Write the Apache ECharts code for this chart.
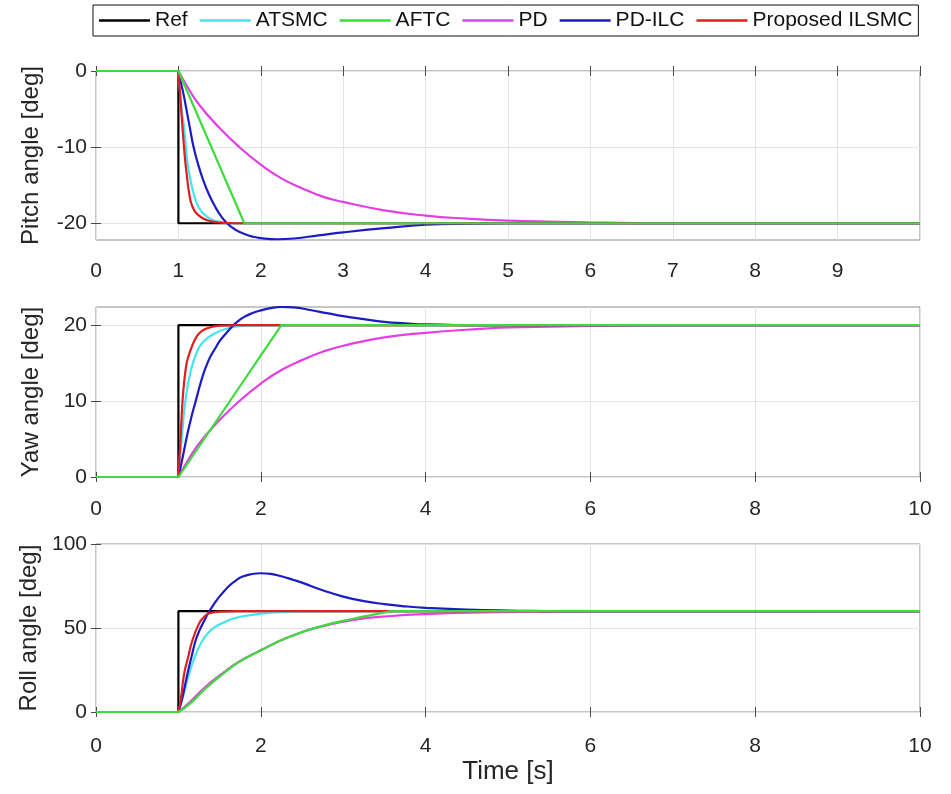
<!DOCTYPE html>
<html>
<head>
<meta charset="utf-8">
<script src="https://cdn.jsdelivr.net/npm/echarts@6/dist/echarts.min.js"></script>
<style>
html,body{margin:0;padding:0;background:#fff;}
#chart{width:951px;height:794px;}
</style>
</head>
<body>
<div id="chart"></div>
<script>
// ---------- data (time [s], angle [deg]) ----------
const G = [1, '-']; // break marker so the post-step part is smoothed on its own
const seriesNames = ['Ref', 'ATSMC', 'AFTC', 'PD', 'PD-ILC', 'Proposed ILSMC'];

const pitchRef    = [[0,0],[1,0],[1,-20],[10,-20]];
const pitchATSMC  = [[0,0],[1,0],G,[1,0],[1.04,-5],[1.07,-7.5],[1.11,-12],[1.15,-14.5],[1.19,-16.3],[1.25,-18],[1.33,-19],[1.45,-19.7],[1.7,-20],[10,-20]];
const pitchAFTC   = [[0,0],[1,0],[1.8,-20],[10,-20]];
const pitchPD     = [[0,0],[1,0],G,[1,0],[1.1,-1.9],[1.25,-4.4],[1.5,-7.5],[1.75,-10.1],[2,-12.3],[2.25,-14.1],[2.5,-15.4],[2.75,-16.5],[3,-17.2],[3.5,-18.3],[4,-19],[4.5,-19.4],[5,-19.65],[6,-19.9],[7,-20],[10,-20]];
const pitchPDILC  = [[0,0],[1,0],G,[1,0],[1.03,-1.5],[1.065,-3.2],[1.1,-5.2],[1.14,-7.5],[1.18,-9.8],[1.23,-11.9],[1.3,-14.3],[1.37,-16.2],[1.45,-17.9],[1.52,-19.1],[1.6,-20.1],[1.7,-20.9],[1.8,-21.4],[1.9,-21.75],[2,-21.95],[2.2,-22.1],[2.4,-22.0],[2.7,-21.6],[3,-21.2],[3.5,-20.65],[4,-20.2],[4.5,-20.05],[5,-20],[10,-20]];
const pitchILSMC  = [[0,0],[1,0],G,[1,0],[1.02,-3],[1.05,-7.5],[1.08,-11.5],[1.1,-13.5],[1.13,-16],[1.17,-17.8],[1.25,-19],[1.35,-19.6],[1.5,-19.9],[1.7,-20],[10,-20]];

const yawRef    = [[0,0],[1,0],[1,20],[10,20]];
const yawATSMC  = [[0,0],[1,0],G,[1,0],[1.04,5],[1.085,10],[1.15,14],[1.23,16.6],[1.3,17.8],[1.42,18.8],[1.6,19.6],[1.8,19.95],[2.1,20],[10,20]];
const yawAFTC   = [[0,0],[1,0],[2.25,20],[10,20]];
const yawPD     = [[0,0],[1,0],G,[1,0],[1.1,1.9],[1.25,4.4],[1.5,7.5],[1.75,10.1],[2,12.3],[2.25,14.1],[2.5,15.4],[2.75,16.5],[3,17.3],[3.5,18.4],[4,19],[4.5,19.4],[5,19.7],[6,19.9],[7,20],[10,20]];
const yawPDILC  = [[0,0],[1,0],G,[1,0],[1.05,2.5],[1.11,5.7],[1.16,8],[1.21,10],[1.27,12.4],[1.33,14.4],[1.39,15.9],[1.45,17],[1.5,17.9],[1.56,18.7],[1.65,19.8],[1.72,20.5],[1.8,21.1],[1.9,21.6],[2,21.95],[2.12,22.25],[2.25,22.4],[2.4,22.35],[2.6,22.0],[2.8,21.6],[3,21.2],[3.25,20.8],[3.5,20.45],[3.75,20.25],[4,20.1],[4.5,20.02],[5,20],[10,20]];
const yawILSMC  = [[0,0],[1,0],G,[1,0],[1.01,2],[1.02,4],[1.035,7],[1.05,10],[1.065,12],[1.08,13.5],[1.1,15],[1.125,16],[1.15,16.8],[1.2,18.1],[1.25,18.9],[1.3,19.35],[1.35,19.6],[1.5,19.95],[1.7,20],[10,20]];

const rollRef    = [[0,0],[1,0],[1,60],[10,60]];
const rollATSMC  = [[0,0],[1,0],G,[1,0],[1.05,8],[1.12,21],[1.2,33],[1.28,41.5],[1.36,47],[1.45,50.8],[1.53,52.8],[1.63,55],[1.75,56.7],[2,58.5],[2.3,59.5],[2.7,60],[10,60]];
const rollAFTC   = [[0,0],[1,0],G,[1,0],[1.13,4.5],[1.33,14],[1.53,22.3],[1.73,29.5],[2,36.7],[2.34,44.6],[2.74,51.2],[3.15,55.8],[3.4,58.3],[3.65,60],[10,60]];
const rollPD     = [[0,0],[1,0],G,[1,0],[1.13,5.5],[1.33,15],[1.53,22.8],[1.73,29.8],[2,36.7],[2.34,44.6],[2.74,51],[3.15,55],[3.55,57],[4,58.3],[4.7,59.3],[6,59.9],[10,60]];
const rollPDILC  = [[0,0],[1,0],G,[1,0],[1.05,9],[1.11,22.8],[1.16,33],[1.21,42.7],[1.26,49],[1.3,53],[1.37,59.5],[1.45,65.5],[1.5,68.8],[1.56,72.2],[1.62,75.3],[1.7,78.4],[1.78,80.6],[1.88,82],[2,82.6],[2.12,82.2],[2.25,80.8],[2.4,78.6],[2.5,77],[2.75,72.5],[3,68.7],[3.25,66],[3.5,64.2],[3.75,62.9],[4,62],[4.5,60.9],[5,60.4],[6,60],[10,60]];
const rollILSMC  = [[0,0],[1,0],G,[1,0],[1.03,8],[1.07,22.8],[1.12,33],[1.17,42.7],[1.25,52.6],[1.3,56],[1.37,58.6],[1.5,59.7],[1.7,60],[10,60]];

// axis ticks / ranges
const pitchTicks = [-20, -10, 0];
const yawTicks = [0, 10, 20];
const rollTicks = [0, 50, 100];
const pitchRange = [-22.2, 0];
const yawRange = [0, 22.4];
const rollRange = [0, 100];
const axisNames = ['Pitch angle [deg]', 'Yaw angle [deg]', 'Roll angle [deg]'];
const xName = 'Time [s]';

// ---------- styling ----------
const FONT = '"Liberation Sans", Arial, Helvetica, sans-serif';
const colors = {
  'Ref': '#000000',
  'ATSMC': '#44e4f0',
  'AFTC': '#3ddc3d',
  'PD': '#e43fe4',
  'PD-ILC': '#1c1cc4',
  'Proposed ILSMC': '#e01e1e'
};
const zOrder = {'Ref': 1, 'ATSMC': 2, 'PD': 3, 'PD-ILC': 4, 'Proposed ILSMC': 5, 'AFTC': 6};

const panels = [
  {data: [pitchRef, pitchATSMC, pitchAFTC, pitchPD, pitchPDILC, pitchILSMC], ticks: pitchTicks, range: pitchRange, xInt: 1, hide10: true, lblMargin: 21},
  {data: [yawRef, yawATSMC, yawAFTC, yawPD, yawPDILC, yawILSMC], ticks: yawTicks, range: yawRange, xInt: 2, hide10: false, lblMargin: 22},
  {data: [rollRef, rollATSMC, rollAFTC, rollPD, rollPDILC, rollILSMC], ticks: rollTicks, range: rollRange, xInt: 2, hide10: false, lblMargin: 24}
];
const gridBoxes = [
  {top: 71, height: 169},
  {top: 307, height: 170},
  {top: 544, height: 168}
];

const grid = [], xAxis = [], yAxis = [], series = [];
const tickStyle = {show: true, inside: true, length: 5, lineStyle: {color: '#4a4a4a', width: 1}};
const splitStyle = {show: true, lineStyle: {color: '#e4e4e4', width: 1}};

panels.forEach((p, i) => {
  grid.push({left: 96, right: 31, top: gridBoxes[i].top, height: gridBoxes[i].height,
    show: true, borderColor: '#8c8c8c', borderWidth: 1, backgroundColor: '#fff', containLabel: false});
  const xBase = {type: 'value', gridIndex: i, min: 0, max: 10, interval: p.xInt,
    axisLine: {show: false}, axisTick: tickStyle};
  xAxis.push(Object.assign({}, xBase, {
    position: 'bottom',
    splitLine: splitStyle,
    axisLabel: {show: true, fontSize: 21, fontFamily: FONT, color: '#262626', margin: p.lblMargin,
      formatter: v => (p.hide10 && v === 10) ? '' : String(v)},
    name: i === 2 ? xName : '', nameLocation: 'middle', nameGap: 47,
    nameTextStyle: {fontSize: 26, fontFamily: FONT, color: '#262626'}
  }));
  xAxis.push(Object.assign({}, xBase, {position: 'top', splitLine: {show: false}, axisLabel: {show: false}}));
  const yBase = {type: 'value', gridIndex: i, min: p.range[0], max: p.range[1],
    axisLine: {show: false}};
  yAxis.push(Object.assign({}, yBase, {
    position: 'left',
    axisTick: Object.assign({}, tickStyle, {customValues: p.ticks}),
    splitLine: Object.assign({}, splitStyle, {customValues: p.ticks}),
    axisLabel: {show: true, customValues: p.ticks, fontSize: 21, fontFamily: FONT, color: '#262626', margin: 9},
    name: axisNames[i], nameLocation: 'middle', nameGap: 53, nameRotate: 90,
    nameTextStyle: {fontSize: 24, fontFamily: FONT, color: '#262626'}
  }));
  yAxis.push(Object.assign({}, yBase, {
    position: 'right',
    axisTick: Object.assign({}, tickStyle, {customValues: p.ticks}),
    splitLine: {show: false}, axisLabel: {show: false}
  }));
  p.data.forEach((d, k) => {
    const name = seriesNames[k];
    const isStraight = (name === 'Ref' || (name === 'AFTC' && i < 2));
    series.push({
      name: name, type: 'line', xAxisIndex: i * 2, yAxisIndex: i * 2,
      data: d, symbol: 'none', showSymbol: false, smooth: isStraight ? false : 0.5,
      connectNulls: false, animation: false, z: 2 + zOrder[name],
      lineStyle: {color: colors[name], width: 2.2},
      itemStyle: {color: colors[name]}
    });
  });
});

const chart = echarts.init(document.getElementById('chart'), null, {renderer: 'canvas'});
chart.setOption({
  animation: false,
  backgroundColor: '#fff',
  legend: {
    data: seriesNames, top: 5, left: 93,
    icon: 'rect', itemWidth: 51, itemHeight: 2.5, itemGap: 12,
    padding: [5, 6], borderColor: '#111', borderWidth: 1, backgroundColor: '#fff',
    textStyle: {fontSize: 21, fontFamily: FONT, color: '#111'},
    selectedMode: false
  },
  grid: grid, xAxis: xAxis, yAxis: yAxis, series: series
});
</script>
</body>
</html>
